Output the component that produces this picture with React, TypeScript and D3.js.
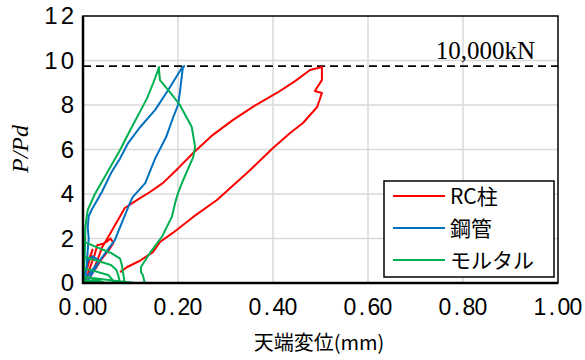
import * as d3 from 'd3';

const W = 585;
const H = 360;

// tick values
const xTicks = [0, 0.2, 0.4, 0.6, 0.8, 1.0];
const yTicks = [0, 2, 4, 6, 8, 10, 12];
const designLoad = 9.75; // 10,000kN

// series names + colours
const seriesNames = ['RC柱', '鋼管', 'モルタル'];
const seriesColors = ['#ff0000', '#0070c0', '#00b050'];

// [天端変位 (mm), P/Pd]
const rcCurve: [number, number][] = [
  [0, 0], [0.008, 0.6], [0.015, 1.2], [0.02, 1.5], [0.012, 0.9], [0.004, 0.3], [0.006, 0.1],
  [0.015, 0.7], [0.025, 1.3], [0.03, 1.7], [0.04, 1.75], [0.05, 1.85], [0.058, 2.0], [0.064, 1.8],
  [0.055, 1.5], [0.04, 1.1], [0.025, 0.6], [0.015, 0.3], [0.02, 0.5], [0.03, 1.0], [0.04, 1.6],
  [0.053, 2.07], [0.07, 2.7], [0.088, 3.37], [0.115, 3.75], [0.141, 4.09], [0.168, 4.49], [0.2, 5.15],
  [0.232, 5.84], [0.27, 6.6], [0.316, 7.33], [0.36, 7.95], [0.408, 8.54], [0.445, 9.05], [0.478, 9.57],
  [0.495, 9.66], [0.503, 9.71], [0.503, 9.12], [0.488, 8.63], [0.503, 8.54], [0.493, 7.91],
  [0.463, 7.19], [0.436, 6.74], [0.4, 6.07], [0.352, 5.08], [0.282, 3.73], [0.232, 2.97],
  [0.189, 2.25], [0.162, 1.84], [0.147, 1.39], [0.12, 1.0], [0.093, 0.72], [0.078, 0.49],
];

const pipeCurve: [number, number][] = [
  [0, 0], [0.005, 0.5], [0.01, 1.0], [0.02, 1.2], [0.035, 1.0], [0.02, 0.6], [0.005, 0.2],
  [0.008, 0.8], [0.01, 1.5], [0.012, 2.0], [0.01, 2.5], [0.012, 3.0], [0.018, 3.28], [0.04, 4.1],
  [0.059, 4.94], [0.078, 5.6], [0.095, 6.29], [0.12, 7.0], [0.152, 7.78], [0.18, 8.7], [0.208, 9.66],
  [0.213, 9.75], [0.21, 9.66], [0.204, 8.58], [0.2, 8.0], [0.19, 7.46], [0.175, 6.56], [0.152, 5.6],
  [0.131, 4.49], [0.105, 3.87], [0.099, 3.6], [0.084, 2.83], [0.067, 1.93], [0.036, 1.03],
  [0.015, 0.27], [0.008, 0.05],
];

const mortarCurve: [number, number][] = [
  [0, 0], [0.002, 0.27], [0.05, 0.15], [0.11, 0.0], [0.05, 0.0], [0.001, 0.05], [0.002, 0.67],
  [0.03, 0.5], [0.053, 0.36], [0.062, 0.15], [0.067, 0.0], [0.03, 0.0], [0.001, 0.1], [0.003, 1.17],
  [0.03, 1.0], [0.059, 0.81], [0.07, 0.6], [0.074, 0.36], [0.078, 0.0], [0.04, 0.01], [0.001, 0.15],
  [0.003, 1.0], [0.004, 1.84], [0.03, 1.6], [0.059, 1.35], [0.078, 1.1], [0.082, 0.8], [0.084, 0.49],
  [0.088, 0.0], [0.045, 0.02], [0.002, 0.3], [0.004, 1.5], [0.005, 2.5], [0.008, 3.0], [0.01, 3.28],
  [0.025, 4.0], [0.042, 4.63], [0.06, 5.3], [0.078, 5.98], [0.1, 6.9], [0.122, 7.78], [0.135, 8.31],
  [0.148, 9.0], [0.158, 9.57], [0.16, 9.71], [0.16, 9.57], [0.162, 9.12], [0.183, 8.58], [0.204, 8.0],
  [0.229, 7.01], [0.236, 6.11], [0.232, 5.66], [0.211, 4.63], [0.2, 4.04], [0.194, 3.6], [0.187, 2.97],
  [0.166, 2.07], [0.141, 1.35], [0.122, 0.72], [0.122, 0.49], [0.126, 0.36], [0.13, 0.0],
];

const curves = [rcCurve, pipeCurve, mortarCurve];

const App = () => {
  const x = d3.scaleLinear().domain([0, 1]).range([83, 558]);
  const y = d3.scaleLinear().domain([0, 12]).range([283, 16]);
  const line = d3
    .line<[number, number]>()
    .x((d) => x(d[0]))
    .y((d) => y(d[1]));

  const sans = "'Noto Sans CJK JP', 'Noto Sans', sans-serif";
  const num = "'Liberation Sans', Arial, sans-serif";
  const serif = "'Liberation Serif', 'DejaVu Serif', serif";
  const pitch = 12; // fixed-width look of the x tick labels

  return (
    <svg
      width={W}
      height={H}
      style={{ position: 'absolute', left: 0, top: 0, background: '#fff' }}
    >
      {/* grid */}
      {yTicks.slice(1, -1).map((t) => (
        <line key={'gy' + t} x1={x(0)} x2={x(1)} y1={y(t)} y2={y(t)} stroke="#d9d9d9" strokeWidth={1.5} />
      ))}
      {xTicks.slice(1, -1).map((t) => (
        <line key={'gx' + t} x1={x(t)} x2={x(t)} y1={y(0)} y2={y(12)} stroke="#d9d9d9" strokeWidth={1.5} />
      ))}

      {/* design load line */}
      <line
        x1={x(0)}
        x2={x(1)}
        y1={y(designLoad)}
        y2={y(designLoad)}
        stroke="#000"
        strokeWidth={1.8}
        strokeDasharray="8,5"
      />
      <text x={535} y={59} textAnchor="end" fontFamily={serif} fontSize={25} fill="#000">
        10,000kN
      </text>

      {/* curves */}
      {curves.map((c, i) => (
        <path
          key={i}
          d={line(c) ?? ''}
          fill="none"
          stroke={seriesColors[i]}
          strokeWidth={2}
          strokeLinejoin="round"
        />
      ))}

      {/* frame */}
      <rect x={x(0)} y={y(12)} width={x(1) - x(0)} height={y(0) - y(12)} fill="none" stroke="#000" strokeWidth={1.5} />
      <line x1={x(0)} x2={x(0)} y1={y(12)} y2={y(0) + 1} stroke="#000" strokeWidth={2.5} />
      <line x1={x(0) - 1} x2={x(1)} y1={y(0)} y2={y(0)} stroke="#000" strokeWidth={2.5} />

      {/* y ticks */}
      {yTicks.map((t) => (
        <text
          key={'ty' + t}
          x={77}
          y={y(t) + 8}
          textAnchor="end"
          fontFamily={num}
          fontSize={24}
          letterSpacing={3}
          fill="#000"
        >
          {t}
        </text>
      ))}
      {/* x ticks, one glyph per cell */}
      {xTicks.map((t) => {
        const chars = t.toFixed(2).split('');
        const n = chars.length;
        return (
          <text key={'tx' + t} y={315} textAnchor="middle" fontFamily={num} fontSize={23} fill="#000">
            {chars.map((c, k) => (
              <tspan key={k} x={x(t) + (k - (n - 1) / 2) * pitch}>
                {c}
              </tspan>
            ))}
          </text>
        );
      })}

      {/* axis titles */}
      <text x={319} y={350} textAnchor="middle" fontFamily={sans} fontSize={20} fill="#000">
        天端変位(mm)
      </text>
      <text
        transform="translate(28,149) rotate(-90)"
        textAnchor="middle"
        fontFamily={serif}
        fontStyle="italic"
        fontSize={24}
        fill="#000"
      >
        P/Pd
      </text>

      {/* legend */}
      <rect x={384} y={181} width={170} height={96} fill="#fff" stroke="#000" strokeWidth={1.5} />
      {seriesNames.map((n, i) => (
        <g key={n}>
          <line x1={393} x2={445} y1={196 + i * 32} y2={196 + i * 32} stroke={seriesColors[i]} strokeWidth={2} />
          <text x={450} y={204 + i * 32} fontFamily={sans} fontSize={21} fill="#000">
            {n}
          </text>
        </g>
      ))}
    </svg>
  );
};

export default App;
